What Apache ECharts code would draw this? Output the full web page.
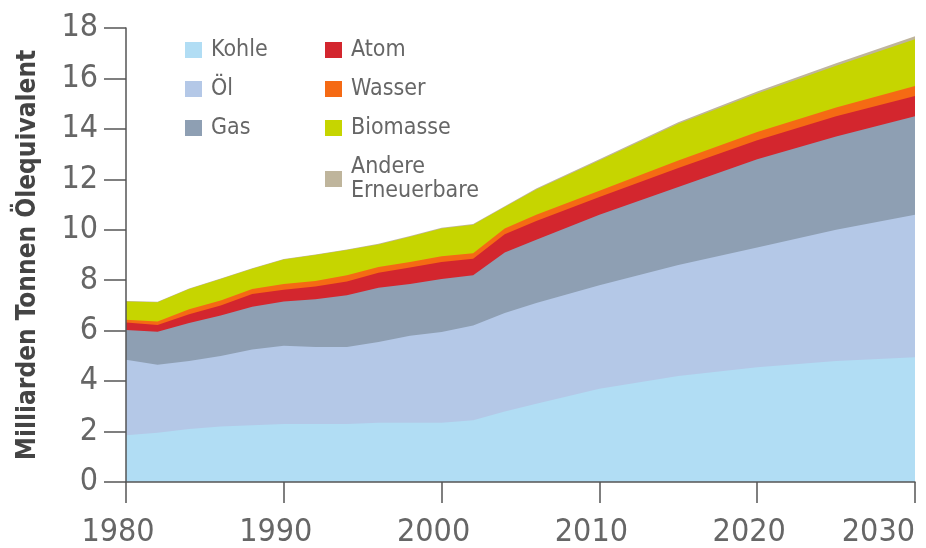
<!DOCTYPE html>
<html style="height: 100%">
    <head>
        <title>Energieverbrauch</title>
        <meta charset="utf-8">
    </head>
    <body style="height: 100%; margin: 0; background: #fff">
        <div id="container" style="height: 100%"></div>

        <script type="text/javascript" src="https://cdn.jsdelivr.net/npm/echarts@6.0.0/dist/echarts.min.js"></script>
        <script type="text/javascript">
            var years    = [1980, 1982, 1984, 1986, 1988, 1990, 1992, 1994, 1996, 1998, 2000, 2002, 2004, 2006, 2010, 2015, 2020, 2025, 2030];
            var kohle    = [1.85, 1.95, 2.1, 2.2, 2.25, 2.3, 2.3, 2.3, 2.35, 2.35, 2.35, 2.45, 2.8, 3.1, 3.7, 4.2, 4.55, 4.8, 4.95];
            var oel      = [3.0, 2.7, 2.7, 2.8, 3.0, 3.1, 3.05, 3.05, 3.2, 3.45, 3.6, 3.75, 3.9, 4.0, 4.1, 4.4, 4.75, 5.2, 5.65];
            var gas      = [1.18, 1.31, 1.5, 1.6, 1.7, 1.76, 1.9, 2.05, 2.15, 2.05, 2.1, 2.0, 2.4, 2.5, 2.8, 3.1, 3.5, 3.7, 3.9];
            var atom     = [0.29, 0.26, 0.35, 0.4, 0.5, 0.46, 0.5, 0.55, 0.6, 0.65, 0.67, 0.65, 0.72, 0.75, 0.7, 0.75, 0.75, 0.8, 0.8];
            var wasser   = [0.11, 0.14, 0.2, 0.2, 0.2, 0.23, 0.22, 0.25, 0.22, 0.22, 0.23, 0.22, 0.23, 0.25, 0.25, 0.3, 0.33, 0.35, 0.4];
            var biomasse = [0.73, 0.77, 0.8, 0.85, 0.8, 0.97, 1.03, 1.0, 0.9, 1.0, 1.1, 1.13, 0.85, 1.0, 1.2, 1.45, 1.52, 1.65, 1.85];
            var andere   = [0.02, 0.02, 0.02, 0.02, 0.02, 0.02, 0.02, 0.02, 0.03, 0.03, 0.03, 0.03, 0.03, 0.04, 0.05, 0.06, 0.08, 0.1, 0.12];
            var yTicks = [0, 2, 4, 6, 8, 10, 12, 14, 16, 18];
            var xTicks = [1980, 1990, 2000, 2010, 2020, 2030];

            var font = '"DejaVu Sans Condensed", "DejaVu Sans", sans-serif';

            var layers = [
                { name: 'Kohle', vals: kohle, color: '#b1ddf4' },
                { name: 'Öl', vals: oel, color: '#b4c8e7' },
                { name: 'Gas', vals: gas, color: '#8e9fb3' },
                { name: 'Atom', vals: atom, color: '#d3262e' },
                { name: 'Wasser', vals: wasser, color: '#f56a14' },
                { name: 'Biomasse', vals: biomasse, color: '#c6d500' },
                { name: 'Andere Erneuerbare', vals: andere, color: '#bfb59c' }
            ];

            // stacking done here: running totals, drawn top layer first so lower ones paint over it
            var running = years.map(function () { return 0; });
            var series = layers.map(function (l) {
                running = running.map(function (s, i) { return s + l.vals[i]; });
                var tops = running.slice();
                return {
                    name: l.name,
                    type: 'line',
                    data: years.map(function (y, i) { return [y, +tops[i].toFixed(3)]; }),
                    symbol: 'none',
                    lineStyle: { width: 0 },
                    itemStyle: { color: l.color },
                    areaStyle: { color: l.color, opacity: 1 }
                };
            }).reverse();

            var dom = document.getElementById("container");
            var myChart = echarts.init(dom);

            var option = {
                animation: false,
                grid: { left: 126, right: 11, top: 28, bottom: 66, outerBoundsMode: 'none' },
                legend: {
                    // '' starts the second column
                    data: ['Kohle', 'Öl', 'Gas', '', 'Atom', 'Wasser', 'Biomasse', 'Andere Erneuerbare'],
                    orient: 'vertical', left: 185, top: 38, padding: 0,
                    itemWidth: 17, itemHeight: 16, itemGap: 15,
                    icon: 'rect',
                    formatter: function (name) {
                        return name === 'Andere Erneuerbare' ? 'Andere\nErneuerbare' : name;
                    },
                    textStyle: {
                        color: '#666', fontFamily: font, fontSize: 23, lineHeight: 24,
                        width: 99, padding: [0, 0, 0, 4]
                    }
                },
                xAxis: {
                    type: 'value',
                    min: 1980, max: 2030, interval: 10,
                    z: 5,
                    axisLine: { lineStyle: { color: '#555', width: 1.5 } },
                    axisTick: { length: 21, lineStyle: { color: '#555', width: 1.5 } },
                    splitLine: { show: false },
                    axisLabel: {
                        margin: 35, color: '#666', fontFamily: font, fontSize: 32,
                        alignMaxLabel: 'right',
                        rich: { n: { fontFamily: font, fontSize: 32, color: '#666', padding: [0, 16, 0, 0] } },
                        formatter: function (v) {
                            if (xTicks.indexOf(v) < 0) return '';
                            return v === 2030 ? String(v) : '{n|' + v + '}';
                        }
                    }
                },
                yAxis: {
                    type: 'value',
                    min: 0, max: 18, interval: 2,
                    z: 5,
                    name: 'Milliarden Tonnen Ölequivalent',
                    nameLocation: 'middle',
                    nameGap: 85,
                    nameTextStyle: { color: '#444', fontFamily: font, fontSize: 26, fontWeight: 'bold' },
                    axisLine: { show: true, lineStyle: { color: '#555', width: 1.5 } },
                    axisTick: { show: true, length: 22, lineStyle: { color: '#555', width: 1.5 } },
                    splitLine: { show: false },
                    axisLabel: {
                        margin: 28, color: '#666', fontFamily: font, fontSize: 32,
                        formatter: function (v) { return yTicks.indexOf(v) >= 0 ? String(v) : ''; }
                    }
                },
                series: series
            };

            myChart.setOption(option);
            window.onresize = function () {
                myChart.resize();
            };
        </script>
    </body>
</html>
